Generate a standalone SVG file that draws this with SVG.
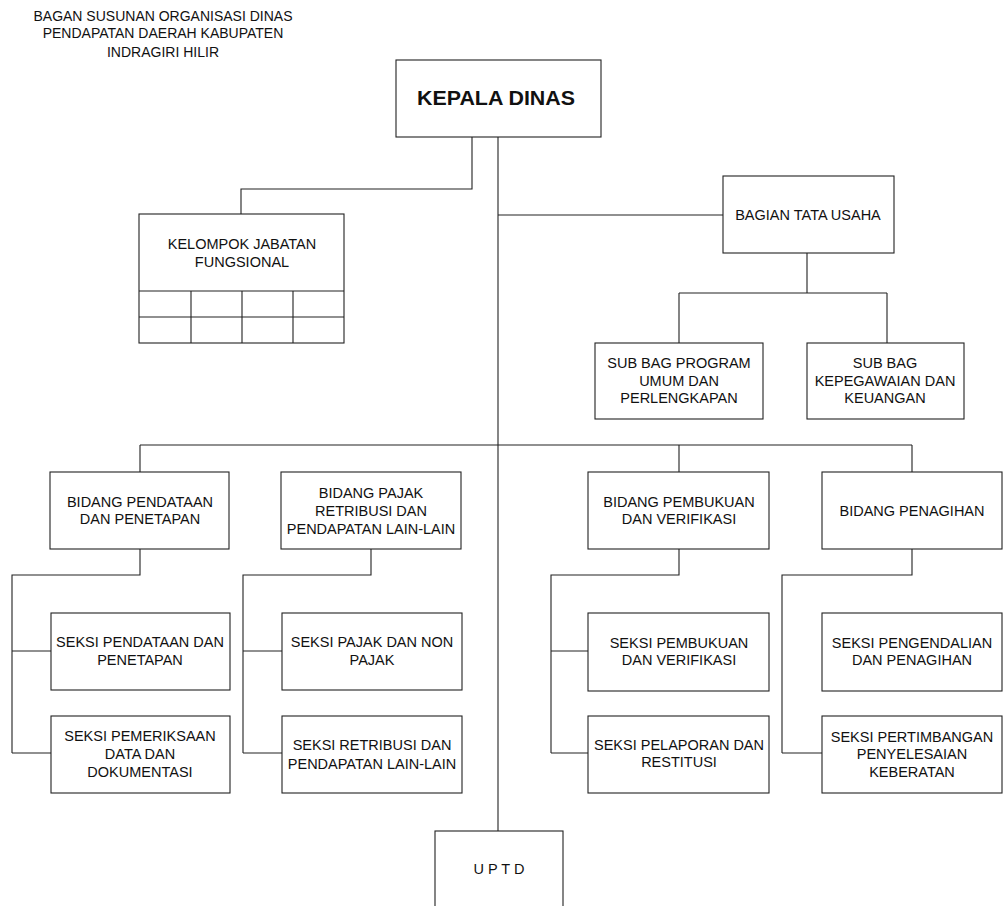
<svg xmlns="http://www.w3.org/2000/svg" width="1007" height="906" viewBox="0 0 1007 906">
<style>
.bx{fill:#fff;stroke:#222;stroke-width:1.1}
.ln{fill:none;stroke:#222;stroke-width:1.1}
.t{font-family:"Liberation Sans",Arial,sans-serif;font-size:14.5px;fill:#111;text-anchor:middle}
.tt{font-family:"Liberation Sans",Arial,sans-serif;font-size:14px;fill:#111;text-anchor:middle}
</style>
<rect width="1007" height="906" fill="#fff"/>
<g id="title">
<text class="tt" x="163" y="21">BAGAN SUSUNAN ORGANISASI DINAS</text>
<text class="tt" x="163" y="38">PENDAPATAN DAERAH KABUPATEN</text>
<text class="tt" x="163" y="57">INDRAGIRI HILIR</text>
</g>
<g id="connectors">
<path class="ln" d="M498 137V831"/>
<path class="ln" d="M472 137V189H241V214"/>
<path class="ln" d="M498 215H723"/>
<path class="ln" d="M807 253V293M679 293H887M679 293V343M887 293V343"/>
<path class="ln" d="M140 445H912M140 445V472M679 445V472M912 445V472"/>
<path class="ln" d="M140 549V575H12V753M12 651H51M12 753H51"/>
<path class="ln" d="M371 549V575H243V753M243 651H282M243 753H282"/>
<path class="ln" d="M679 549V575H551V753M551 651H588M551 753H588"/>
<path class="ln" d="M912 549V575H782V753M782 753H822"/>
</g>
<g id="kepala">
<rect class="bx" x="396" y="60" width="205" height="77"/>
<text x="496" y="105" font-family="'Liberation Sans',Arial,sans-serif" font-size="20" font-weight="bold" text-anchor="middle" fill="#111" textLength="158" lengthAdjust="spacingAndGlyphs">KEPALA DINAS</text>
</g>
<g id="kelompok">
<rect class="bx" x="139" y="214" width="205" height="129"/>
<path class="ln" d="M139 291H344M139 317H344M191 291V343M242 291V343M293 291V343"/>
<text class="t" x="242" y="249">KELOMPOK JABATAN</text>
<text class="t" x="242" y="267">FUNGSIONAL</text>
</g>
<g id="tatausaha">
<rect class="bx" x="723" y="176" width="171" height="77"/>
<text class="t" x="808" y="220">BAGIAN TATA USAHA</text>
</g>
<g id="subbag-program">
<rect class="bx" x="595" y="343" width="168" height="76"/>
<text class="t" x="679" y="368">SUB BAG PROGRAM</text>
<text class="t" x="679" y="386">UMUM DAN</text>
<text class="t" x="679" y="403">PERLENGKAPAN</text>
</g>
<g id="subbag-kepegawaian">
<rect class="bx" x="807" y="343" width="157" height="76"/>
<text class="t" x="885" y="368">SUB BAG</text>
<text class="t" x="885" y="386">KEPEGAWAIAN DAN</text>
<text class="t" x="885" y="403">KEUANGAN</text>
</g>
<g id="bidang-pendataan">
<rect class="bx" x="50" y="472" width="179" height="77"/>
<text class="t" x="140" y="507">BIDANG PENDATAAN</text>
<text class="t" x="140" y="524">DAN PENETAPAN</text>
</g>
<g id="bidang-pajak">
<rect class="bx" x="281" y="472" width="180" height="77"/>
<text class="t" x="371" y="498">BIDANG PAJAK</text>
<text class="t" x="371" y="516">RETRIBUSI DAN</text>
<text class="t" x="371" y="534">PENDAPATAN LAIN-LAIN</text>
</g>
<g id="bidang-pembukuan">
<rect class="bx" x="588" y="472" width="181" height="77"/>
<text class="t" x="679" y="507">BIDANG PEMBUKUAN</text>
<text class="t" x="679" y="524">DAN VERIFIKASI</text>
</g>
<g id="bidang-penagihan">
<rect class="bx" x="822" y="472" width="180" height="77"/>
<text class="t" x="912" y="516">BIDANG PENAGIHAN</text>
</g>
<g id="seksi-pendataan">
<rect class="bx" x="51" y="613" width="179" height="77"/>
<text class="t" x="140" y="647">SEKSI PENDATAAN DAN</text>
<text class="t" x="140" y="665">PENETAPAN</text>
</g>
<g id="seksi-pemeriksaan">
<rect class="bx" x="51" y="716" width="179" height="77"/>
<text class="t" x="140" y="741">SEKSI PEMERIKSAAN</text>
<text class="t" x="140" y="759">DATA DAN</text>
<text class="t" x="140" y="777">DOKUMENTASI</text>
</g>
<g id="seksi-pajak">
<rect class="bx" x="282" y="613" width="180" height="77"/>
<text class="t" x="372" y="647">SEKSI PAJAK DAN NON</text>
<text class="t" x="372" y="665">PAJAK</text>
</g>
<g id="seksi-retribusi">
<rect class="bx" x="282" y="716" width="180" height="77"/>
<text class="t" x="372" y="750">SEKSI RETRIBUSI DAN</text>
<text class="t" x="372" y="769">PENDAPATAN LAIN-LAIN</text>
</g>
<g id="seksi-pembukuan">
<rect class="bx" x="588" y="613" width="181" height="78"/>
<text class="t" x="679" y="648">SEKSI PEMBUKUAN</text>
<text class="t" x="679" y="665">DAN VERIFIKASI</text>
</g>
<g id="seksi-pelaporan">
<rect class="bx" x="588" y="716" width="181" height="77"/>
<text class="t" x="679" y="750">SEKSI PELAPORAN DAN</text>
<text class="t" x="679" y="767">RESTITUSI</text>
</g>
<g id="seksi-pengendalian">
<rect class="bx" x="822" y="613" width="180" height="78"/>
<text class="t" x="912" y="648">SEKSI PENGENDALIAN</text>
<text class="t" x="912" y="665">DAN PENAGIHAN</text>
</g>
<g id="seksi-pertimbangan">
<rect class="bx" x="822" y="716" width="180" height="77"/>
<text class="t" x="912" y="742">SEKSI PERTIMBANGAN</text>
<text class="t" x="912" y="759">PENYELESAIAN</text>
<text class="t" x="912" y="777">KEBERATAN</text>
</g>
<g id="uptd">
<rect class="bx" x="435" y="831" width="128" height="85"/>
<text class="t" x="499" y="874">U P T D</text>
</g>
</svg>
